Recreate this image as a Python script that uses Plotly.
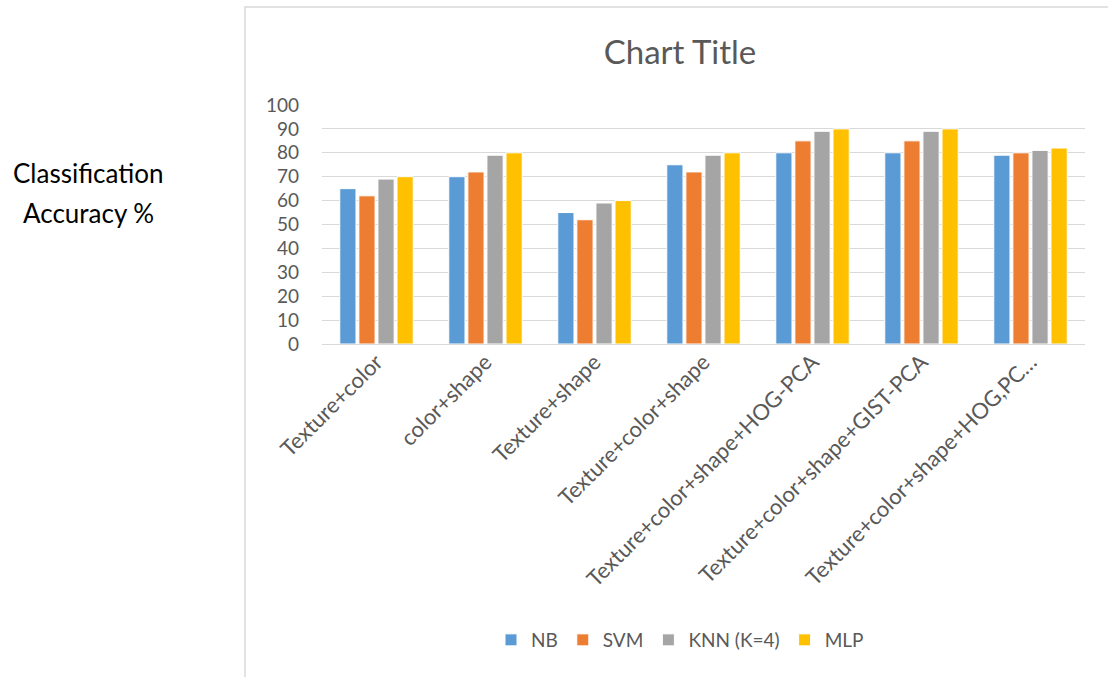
import plotly.graph_objects as go

categories = [
    "Texture+color",
    "color+shape",
    "Texture+shape",
    "Texture+color+shape",
    "Texture+color+shape+HOG-PCA",
    "Texture+color+shape+GIST-PCA",
    "Texture+color+shape+HOG,PC…",
]
nb = [65, 70, 55, 75, 80, 80, 79]
svm = [62, 72, 52, 72, 85, 85, 80]
knn = [69, 79, 59, 79, 89, 89, 81]
mlp = [70, 80, 60, 80, 90, 90, 82]

series_names = ["NB", "SVM", "KNN (K=4)", "MLP"]
series_values = [nb, svm, knn, mlp]
colors = ["#5B9BD5", "#ED7D31", "#A5A5A5", "#FFC000"]

W, H = 1108, 677
L, R, T, B = 322, 1085, 105, 344  # plot area in px

def px_x(px):
    return (px - L) / (R - L)

def px_y(py):
    return (B - py) / (B - T)

font_family = "Lato, 'Open Sans', sans-serif"

fig = go.Figure()
for name, vals, c in zip(series_names, series_values, colors):
    fig.add_trace(go.Bar(
        x=categories, y=vals, name=name,
        marker=dict(color=c, line=dict(color="white", width=1)),
    ))

fig.update_layout(
    width=W, height=H,
    margin=dict(l=L, r=W - R, t=T, b=H - B, pad=0),
    paper_bgcolor="white", plot_bgcolor="white",
    barmode="group", bargap=0.3, bargroupgap=0.15,
    font=dict(family=font_family, color="#595959", size=18),
    title=dict(
        text="Chart Title", font=dict(size=33, color="#595959", family=font_family),
        x=px_x(680), xref="paper", xanchor="center",
        y=1 - 52 / H, yref="container", yanchor="middle",
    ),
    showlegend=True,
    legend=dict(
        orientation="h", x=px_x(680), xanchor="center",
        y=px_y(640), yanchor="middle",
        font=dict(size=19, color="#595959"),
        itemwidth=30, traceorder="normal",
    ),
    xaxis=dict(
        tickangle=-45, showgrid=False, showline=False, ticks="",
        tickfont=dict(size=22, color="#595959"),
    ),
    yaxis=dict(
        range=[0, 100], dtick=10, showgrid=True, gridcolor="#D9D9D9", gridwidth=1.3,
        zeroline=True, zerolinecolor="#D9D9D9", zerolinewidth=1.3,
        showline=False, ticks="", ticklabelstandoff=22,
        tickfont=dict(size=19, color="#595959"),
    ),
)

# chart area frame
fig.add_shape(
    type="rect", xref="paper", yref="paper",
    x0=px_x(245), x1=px_x(1130), y0=px_y(700), y1=px_y(7),
    line=dict(color="#D9D9D9", width=1.5), fillcolor="rgba(0,0,0,0)", layer="below",
)

# outside axis-title text
fig.add_annotation(
    text="Classification", xref="paper", yref="paper",
    x=px_x(88), y=px_y(173), xanchor="center", yanchor="middle",
    showarrow=False, font=dict(size=26, color="black", family=font_family),
)
fig.add_annotation(
    text="Accuracy %", xref="paper", yref="paper",
    x=px_x(88), y=px_y(213), xanchor="center", yanchor="middle",
    showarrow=False, font=dict(size=26, color="black", family=font_family),
)

fig.write_html("out.html")
